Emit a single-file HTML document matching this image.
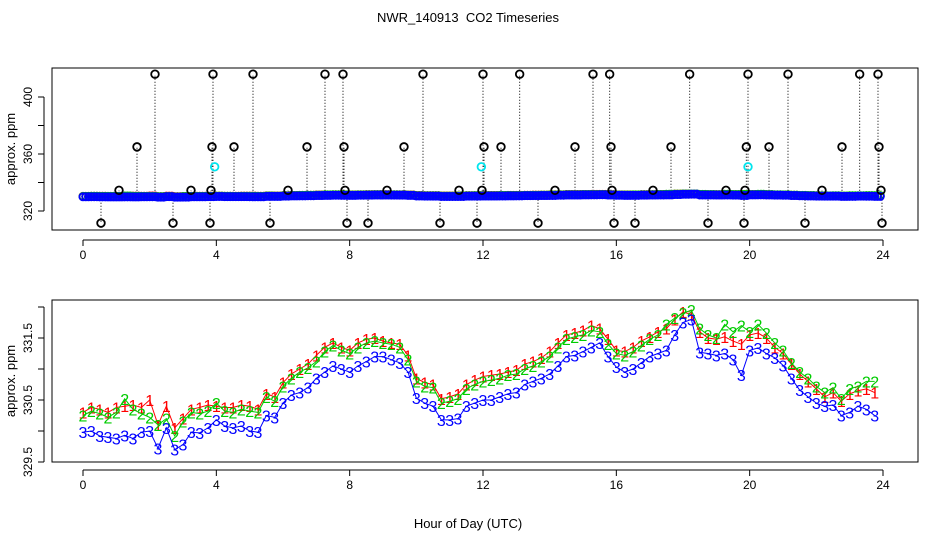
<!DOCTYPE html>
<html><head><meta charset="utf-8">
<style>
html,body{margin:0;padding:0;background:#fff;}
svg{display:block;font-family:"Liberation Sans",Arial,sans-serif;}
</style></head>
<body>
<svg id="chart" width="936" height="540" viewBox="0 0 936 540" xmlns="http://www.w3.org/2000/svg">
<rect width="936" height="540" fill="#fff"/>
<text x="468" y="22" font-size="13" text-anchor="middle" style="white-space:pre">NWR_140913  CO2 Timeseries</text>
<text x="468" y="528" font-size="13" text-anchor="middle">Hour of Day (UTC)</text>
<g id="topPanel"></g>
<g id="botPanel"></g>
</svg>
<script>
const hours = [];
for (let i = 0; i < 96; i++) hours.push(i * 0.25);
const series3 = [329.98,330.00,329.92,329.90,329.88,329.93,329.88,329.98,330.00,329.72,330.05,329.70,329.78,329.98,329.97,330.05,
330.18,330.08,330.05,330.08,330.00,329.98,330.25,330.22,330.45,330.58,330.62,330.70,330.85,330.95,331.05,331.00,
330.95,331.05,331.12,331.20,331.20,331.15,331.10,330.95,330.53,330.45,330.40,330.18,330.18,330.20,330.40,330.45,
330.50,330.50,330.55,330.60,330.62,330.75,330.80,330.85,330.92,331.05,331.20,331.22,331.28,331.35,331.42,331.20,
331.03,330.95,331.00,331.10,331.20,331.25,331.30,331.55,331.75,331.80,331.27,331.25,331.22,331.25,331.15,330.90,
331.30,331.34,331.25,331.18,331.06,330.85,330.66,330.55,330.45,330.40,330.42,330.25,330.30,330.40,330.35,330.25];
const series2 = [330.25,330.32,330.28,330.22,330.30,330.52,330.35,330.28,330.22,330.10,330.20,329.92,330.15,330.30,330.28,330.32,
330.45,330.32,330.30,330.35,330.32,330.30,330.55,330.48,330.72,330.85,330.95,331.02,331.12,331.28,331.38,331.30,
331.25,331.35,331.42,331.45,331.42,331.40,331.35,331.15,330.80,330.72,330.70,330.45,330.48,330.52,330.68,330.75,
330.80,330.82,330.85,330.90,330.92,331.00,331.05,331.12,331.20,331.35,331.48,331.52,331.55,331.62,331.60,331.40,
331.25,331.22,331.28,331.38,331.48,331.55,331.72,331.82,331.90,331.95,331.65,331.55,331.50,331.72,331.60,331.70,
331.60,331.72,331.58,331.42,331.30,331.10,330.95,330.85,330.72,330.62,330.70,330.52,330.68,330.72,330.80,330.80];
const series1 = [330.30,330.38,330.35,330.30,330.38,330.40,330.42,330.38,330.50,330.10,330.40,330.05,330.20,330.35,330.38,330.42,
330.40,330.38,330.38,330.42,330.40,330.35,330.60,330.55,330.78,330.92,331.00,331.08,331.22,331.35,331.42,331.35,
331.30,331.42,331.48,331.50,331.45,331.42,331.40,331.22,330.85,330.78,330.75,330.52,330.55,330.60,330.75,330.82,
330.88,330.90,330.92,330.95,330.98,331.08,331.12,331.18,331.28,331.42,331.55,331.58,331.62,331.70,331.65,331.48,
331.30,331.28,331.35,331.45,331.52,331.60,331.65,331.80,331.92,331.88,331.60,331.50,331.48,331.52,331.45,331.40,
331.55,331.58,331.50,331.35,331.25,331.08,330.92,330.80,330.68,330.55,330.62,330.48,330.60,330.65,330.68,330.62];
const outlierHours = [2.16,3.9,5.1,7.26,7.8,10.2,12.0,13.1,15.3,15.8,18.2,19.95,21.15,23.3,23.85,
1.62,3.87,4.53,6.72,7.83,9.63,12.03,12.54,14.76,15.84,17.64,19.9,20.58,22.77,23.88,
1.08,3.24,3.84,6.15,7.86,9.12,11.28,11.97,14.16,15.87,17.1,19.29,19.86,22.17,23.94,
0.54,2.7,3.81,5.61,7.92,8.55,10.71,11.82,13.65,15.93,16.56,18.75,19.83,21.66,23.97];
const outlierValues = [416,416,416,416,416,416,416,416,416,416,416,416,416,416,416,
365,365,365,365,365,365,365,365,365,365,365,365,365,365,365,
334.5,334.5,334.5,334.5,334.5,334.5,334.5,334.5,334.5,334.5,334.5,334.5,334.5,334.5,334.5,
311.5,311.5,311.5,311.5,311.5,311.5,311.5,311.5,311.5,311.5,311.5,311.5,311.5,311.5,311.5];
const calHours = [3.95, 11.95, 19.95];
const calValues = [351, 351, 351];
const xTicks = [0,4,8,12,16,20,24];
const topYTicks = [320,340,360,380,400];
const topYLabels = ["320","","360","","400"];
const botYTicks = [329.5,330,330.5,331,331.5,332];
const botYLabels = ["329.5","","330.5","","331.5",""];

const NS = "http://www.w3.org/2000/svg";
function mk(tag, attrs, parent){const e=document.createElementNS(NS,tag);for(const k in attrs)e.setAttribute(k,attrs[k]);parent.appendChild(e);return e;}
const X = h => 83 + h * (800/24);
const topY = v => 211 - (v - 320) * 1.425;
const botY = v => 338 - (v - 331.5) * 62;

function axes(g, box, yfun, yt, yl, axisY, tag){
  const r = mk('rect',{x:box[0],y:box[1],width:box[2]-box[0],height:box[3]-box[1],fill:'none',stroke:'#000','stroke-width':1},g);
  
  
  const xl = mk('line',{x1:X(0),x2:X(24),y1:axisY,y2:axisY,stroke:'#000'},g);
  
  
  xTicks.forEach(t=>{
    mk('line',{x1:X(t),x2:X(t),y1:axisY,y2:axisY+6,stroke:'#000'},g);
    const tx = mk('text',{x:X(t),y:axisY+19,'font-size':12,'text-anchor':'middle'},g);
    tx.textContent = t;
    
    
  });
  const ax = box[0]-8;
  const yline = mk('line',{x1:ax,x2:ax,y1:yfun(yt[0]),y2:yfun(yt[yt.length-1]),stroke:'#000'},g);
  
  
  yt.forEach((t,i)=>{
    mk('line',{x1:ax-6,x2:ax,y1:yfun(t),y2:yfun(t),stroke:'#000'},g);
    if (yl[i]) {
      const tx = mk('text',{x:0,y:0,'font-size':12,'text-anchor':'middle',transform:`translate(${ax-12},${yfun(t)}) rotate(-90)`},g);
      tx.textContent = yl[i];
      
      
    }
  });
  const yt2 = mk('text',{x:0,y:0,'font-size':13,'text-anchor':'middle',transform:`translate(15,${(box[1]+box[3])/2}) rotate(-90)`},g);
  yt2.textContent = 'approx. ppm';
  
  
}

// TOP PANEL
const topG = document.getElementById('topPanel');
axes(topG,[52,68,918,230],topY,topYTicks,topYLabels,240,'top');
outlierHours.forEach((h,i)=>{
  const l = mk('line',{x1:X(h),x2:X(h),y1:topY(330),y2:topY(outlierValues[i]),stroke:'#000','stroke-width':1,'stroke-dasharray':'1,2'},topG);
  
  
});
[[series1,'#ff0000'],[series2,'#00cc00'],[series3,'#0000ff']].forEach(([arr,c])=>{
  arr.forEach((v,i)=>{
    for (let k=0;k<3;k++){
      const p = mk('circle',{cx:X(hours[i])+k*2.8,cy:topY(v),r:3.6,fill:'none',stroke:c,'stroke-width':1.8},topG);
      
      
    }
  });
});
outlierHours.forEach((h,i)=>{
  const c = mk('circle',{cx:X(h),cy:topY(outlierValues[i]),r:3.8,fill:'none',stroke:'#000','stroke-width':1.8},topG);
  
  
});
calHours.forEach((h,i)=>{
  const c = mk('circle',{cx:X(h),cy:topY(calValues[i]),r:3.8,fill:'none',stroke:'#00e5ee','stroke-width':1.8},topG);
  
  
});

// BOTTOM PANEL
const botG = document.getElementById('botPanel');
axes(botG,[52,300,918,462],botY,botYTicks,botYLabels,470,'bottom');
[[series1,'#ff0000','1'],[series2,'#00cc00','2'],[series3,'#0000ff','3']].forEach(([arr,c,ch])=>{
  const pts = arr.map((v,i)=>X(hours[i])+','+botY(v)).join(' ');
  const pl = mk('polyline',{points:pts,fill:'none',stroke:c,'stroke-width':1},botG);
  
  
  arr.forEach((v,i)=>{
    const t = mk('text',{x:X(hours[i]),y:botY(v)+6,'font-size':16,fill:c,'text-anchor':'middle'},botG);
    t.textContent = ch;
    
    
  });
});
</script>
</body></html>
